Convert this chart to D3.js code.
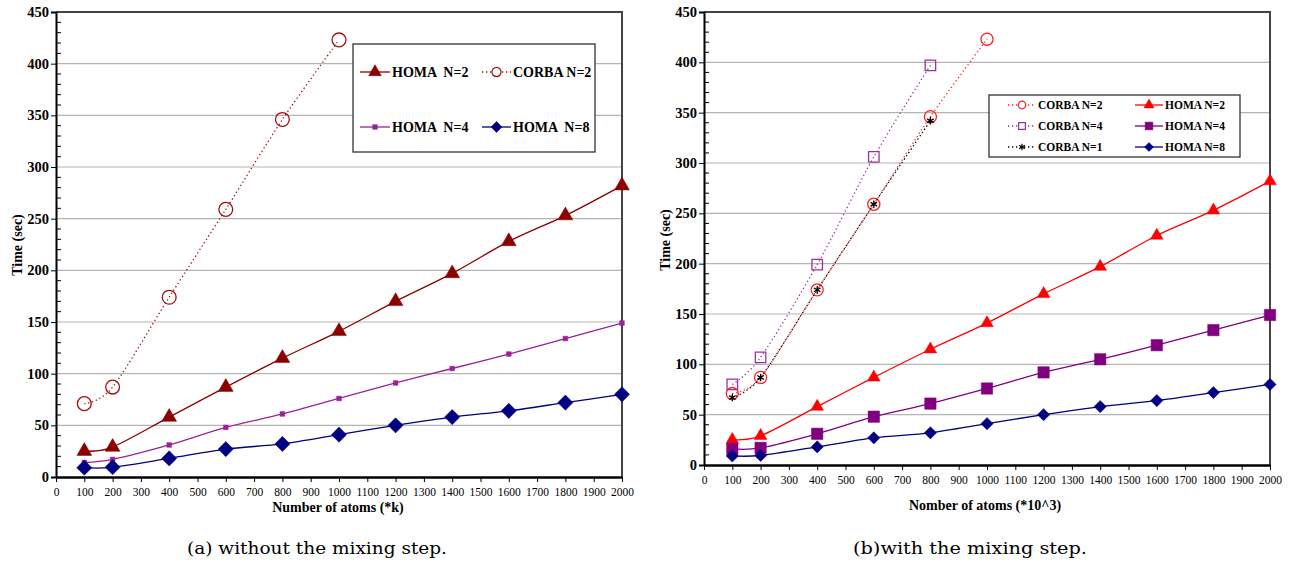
<!DOCTYPE html>
<html>
<head>
<meta charset="utf-8">
<script src="https://cdn.jsdelivr.net/npm/d3@7"></script>
<style>
  body { margin: 0; background: #fff; }
  text { font-family: 'Liberation Serif', 'Times New Roman', serif; }
</style>
</head>
<body>
<div id="chart"></div>
<script>
// x values (number of atoms, in thousands)
const atomsFull = [100, 200, 400, 600, 800, 1000, 1200, 1400, 1600, 1800, 2000]
const atomsCorba = [100, 200, 400, 600, 800, 1000]
const atomsCorbaShort = [100, 200, 400, 600, 800]
const xTicks = d3.range(0, 2001, 100)
const yTicks = d3.range(0, 451, 50)

// (a) without the mixing step
const aHoma2 = [25, 29, 58, 87, 115, 141, 170, 197, 228, 253, 282]
const aCorba2 = [71, 87, 174, 259, 346, 423]
const aHoma4 = [14, 17, 31, 48, 61, 76, 91, 105, 119, 134, 149]
const aHoma8 = [9, 9.5, 18, 27, 32, 41, 50, 58, 64, 72, 80]

// (b) with the mixing step
const bCorba2 = [71, 87, 174, 259, 346, 423]
const bCorba4 = [80, 107, 199, 306, 397]
const bCorba1 = [67, 87, 174, 259, 342]
const bHoma2 = [25, 29, 58, 87, 115, 141, 170, 197, 228, 253, 282]
const bHoma4 = [16, 17, 31, 48, 61, 76, 92, 105, 119, 134, 149]
const bHoma8 = [9, 9.5, 18, 27, 32, 41, 50, 58, 64, 72, 80]

const svg = d3
  .select('#chart')
  .append('svg')
  .attr('width', 1290)
  .attr('height', 565)

const diamond = {
  draw(ctx, size) {
    const r = Math.sqrt(size / 2)
    ctx.moveTo(0, -r)
    ctx.lineTo(r, 0)
    ctx.lineTo(0, r)
    ctx.lineTo(-r, 0)
    ctx.closePath()
  }
}
const asterisk = d3.symbolAsterisk || d3.symbolCross

function drawPanel(cfg) {
  const g = svg.append('g')
  const x = d3.scaleLinear().domain([0, 2000]).range([cfg.left, cfg.right])
  const y = d3.scaleLinear().domain([0, 450]).range([cfg.bottom, cfg.top])

  // gridlines
  g.append('g')
    .selectAll('line')
    .data(yTicks.filter(d => d > 0 && d < 450))
    .enter()
    .append('line')
    .attr('x1', cfg.left)
    .attr('x2', cfg.right)
    .attr('y1', d => y(d))
    .attr('y2', d => y(d))
    .attr('stroke', '#b4b4b4')
    .attr('stroke-width', 1.2)

  // frame top and right
  g.append('path')
    .attr('d', `M${cfg.left},${y(450)}H${cfg.right}V${cfg.bottom}`)
    .attr('fill', 'none')
    .attr('stroke', '#444')
    .attr('stroke-width', 2)

  // y axis, major ticks outside, minor inside
  const yAxis = g.append('g').attr('transform', `translate(${cfg.left},0)`)
  yAxis.call(d3.axisLeft(y).tickValues(yTicks).tickSize(5).tickFormat(d3.format('d')))
  yAxis.attr('font-family', 'Liberation Serif')
  yAxis.select('.domain').attr('stroke-width', 2)
  yAxis
    .selectAll('.tick text')
    .attr('font-size', 14.5)
    .attr('font-weight', 'bold')
    .attr('x', -7)
  yAxis
    .selectAll('.minor')
    .data(d3.range(0, 451, 10).filter(d => d % 50 !== 0))
    .enter()
    .append('line')
    .attr('class', 'minor')
    .attr('x1', 0)
    .attr('x2', 5)
    .attr('y1', d => y(d))
    .attr('y2', d => y(d))
    .attr('stroke', '#000')

  // x axis
  const xAxis = g.append('g').attr('transform', `translate(0,${cfg.bottom})`)
  xAxis.call(
    d3.axisBottom(x).tickValues(xTicks).tickSize(5).tickSizeOuter(0).tickFormat(d3.format('d'))
  )
  xAxis.attr('font-family', 'Liberation Serif')
  xAxis.select('.domain').attr('stroke-width', 2.5)
  xAxis
    .selectAll('.tick text')
    .attr('font-size', 11.5)
    .attr('dy', cfg.tickDy)

  // axis titles
  g.append('text')
    .attr('transform', `translate(${cfg.yTitleX},${cfg.yTitleY}) rotate(-90)`)
    .attr('text-anchor', 'middle')
    .attr('font-size', 14)
    .attr('font-weight', 'bold')
    .attr('dy', '0.35em')
    .text('Time (sec)')
  g.append('text')
    .attr('x', cfg.xTitleX)
    .attr('y', cfg.xTitleY)
    .attr('text-anchor', 'middle')
    .attr('font-size', 14)
    .attr('font-weight', 'bold')
    .attr('dy', '0.35em')
    .text(cfg.xTitle)

  const line = d3
    .line()
    .x(d => x(d[0]))
    .y(d => y(d[1]))
    .curve(d3.curveCardinal.tension(0.1))

  cfg.series.forEach(s => {
    const pts = s.xs.map((v, i) => [v, s.values[i]])
    g.append('path')
      .datum(pts)
      .attr('d', line)
      .attr('fill', 'none')
      .attr('stroke', s.color)
      .attr('stroke-width', 1.3)
      .attr('stroke-dasharray', s.dotted ? '1.3 2.7' : null)
    g.append('g')
      .selectAll('path')
      .data(pts)
      .enter()
      .append('path')
      .attr('transform', d => `translate(${x(d[0])},${y(d[1])})`)
      .attr('d', d3.symbol(s.symbol, s.size))
      .attr('fill', s.open ? 'none' : s.color)
      .attr('stroke', s.color)
      .attr('stroke-width', s.open ? 1.3 : 0.5)
  })

  // legend
  const L = cfg.legend
  const lg = g.append('g')
  lg.append('rect')
    .attr('x', L.x)
    .attr('y', L.y)
    .attr('width', L.w)
    .attr('height', L.h)
    .attr('fill', '#fff')
    .attr('stroke', '#333')
    .attr('stroke-width', 1.3)
  L.items.forEach(it => {
    const s = cfg.series[it.i]
    const cx = (it.lx0 + it.lx1) / 2
    lg.append('line')
      .attr('x1', it.lx0)
      .attr('x2', it.lx1)
      .attr('y1', it.y)
      .attr('y2', it.y)
      .attr('stroke', s.color)
      .attr('stroke-width', 1.3)
      .attr('stroke-dasharray', s.dotted ? '1.3 2.7' : null)
    lg.append('path')
      .attr('transform', `translate(${cx},${it.y})`)
      .attr('d', d3.symbol(s.symbol, s.legendSize || s.size * 0.7))
      .attr('fill', s.open ? '#fff' : s.color)
      .attr('stroke', s.color)
      .attr('stroke-width', s.open ? 1.2 : 0.5)
    lg.append('text')
      .attr('x', it.lx1 + 2)
      .attr('y', it.y)
      .attr('dy', '0.35em')
      .attr('font-size', L.fontSize)
      .attr('font-weight', 'bold')
      .style('white-space', 'pre')
      .text(s.name)
  })
}

drawPanel({
  left: 56,
  right: 622,
  top: 12,
  bottom: 477,
  tickDy: '0.95em',
  yTitleX: 17,
  yTitleY: 245,
  xTitleX: 338,
  xTitleY: 507,
  xTitle: 'Number of atoms (*k)',
  series: [
    { name: 'HOMA  N=2', xs: atomsFull, values: aHoma2, color: '#8b0000', symbol: d3.symbolTriangle, size: 95, legendSize: 70 },
    { name: 'CORBA N=2', xs: atomsCorba, values: aCorba2, color: '#a01010', symbol: d3.symbolCircle, size: 150, open: true, dotted: true, legendSize: 65 },
    { name: 'HOMA  N=4', xs: atomsFull, values: aHoma4, color: '#992299', symbol: d3.symbolSquare, size: 22, legendSize: 22 },
    { name: 'HOMA  N=8', xs: atomsFull, values: aHoma8, color: '#000080', symbol: diamond, size: 115, legendSize: 60 }
  ],
  legend: {
    x: 353, y: 44, w: 242, h: 108, fontSize: 14,
    items: [
      { i: 0, lx0: 360, lx1: 390, y: 72 },
      { i: 1, lx0: 482, lx1: 511, y: 72 },
      { i: 2, lx0: 360, lx1: 390, y: 127 },
      { i: 3, lx0: 482, lx1: 511, y: 127 }
    ]
  }
})

drawPanel({
  left: 704,
  right: 1270,
  top: 12,
  bottom: 465,
  tickDy: '0.95em',
  yTitleX: 665,
  yTitleY: 240,
  xTitleX: 985,
  xTitleY: 505,
  xTitle: 'Nomber of atoms (*10^3)',
  series: [
    { name: 'CORBA N=2', xs: atomsCorba, values: bCorba2, color: '#ff2020', symbol: d3.symbolCircle, size: 115, open: true, dotted: true, legendSize: 45 },
    { name: 'HOMA N=2', xs: atomsFull, values: bHoma2, color: '#ff0000', symbol: d3.symbolTriangle, size: 70, legendSize: 45 },
    { name: 'CORBA N=4', xs: atomsCorbaShort, values: bCorba4, color: '#993399', symbol: d3.symbolSquare, size: 110, open: true, dotted: true, legendSize: 45 },
    { name: 'HOMA N=4', xs: atomsFull, values: bHoma4, color: '#800080', symbol: d3.symbolSquare, size: 130, legendSize: 60 },
    { name: 'CORBA N=1', xs: atomsCorbaShort, values: bCorba1, color: '#000000', symbol: asterisk, size: 40, open: true, dotted: true, legendSize: 30 },
    { name: 'HOMA N=8', xs: atomsFull, values: bHoma8, color: '#000080', symbol: diamond, size: 75, legendSize: 40 }
  ],
  legend: {
    x: 989, y: 95, w: 251, h: 62, fontSize: 11.5,
    items: [
      { i: 0, lx0: 1008, lx1: 1036, y: 105 },
      { i: 1, lx0: 1135, lx1: 1163, y: 105 },
      { i: 2, lx0: 1008, lx1: 1036, y: 126 },
      { i: 3, lx0: 1135, lx1: 1163, y: 126 },
      { i: 4, lx0: 1008, lx1: 1036, y: 147 },
      { i: 5, lx0: 1135, lx1: 1163, y: 147 }
    ]
  }
})

// captions
svg.append('text')
  .attr('x', 317)
  .attr('y', 548)
  .attr('text-anchor', 'middle')
  .attr('dy', '0.35em')
  .attr('font-size', 16)
  .style('font-family', 'DejaVu Serif')
  .attr('textLength', 260)
  .attr('lengthAdjust', 'spacingAndGlyphs')
  .text('(a) without the mixing step.')
svg.append('text')
  .attr('x', 970)
  .attr('y', 548)
  .attr('text-anchor', 'middle')
  .attr('dy', '0.35em')
  .attr('font-size', 16)
  .style('font-family', 'DejaVu Serif')
  .attr('textLength', 234)
  .attr('lengthAdjust', 'spacingAndGlyphs')
  .text('(b)with the mixing step.')
</script>
</body>
</html>
